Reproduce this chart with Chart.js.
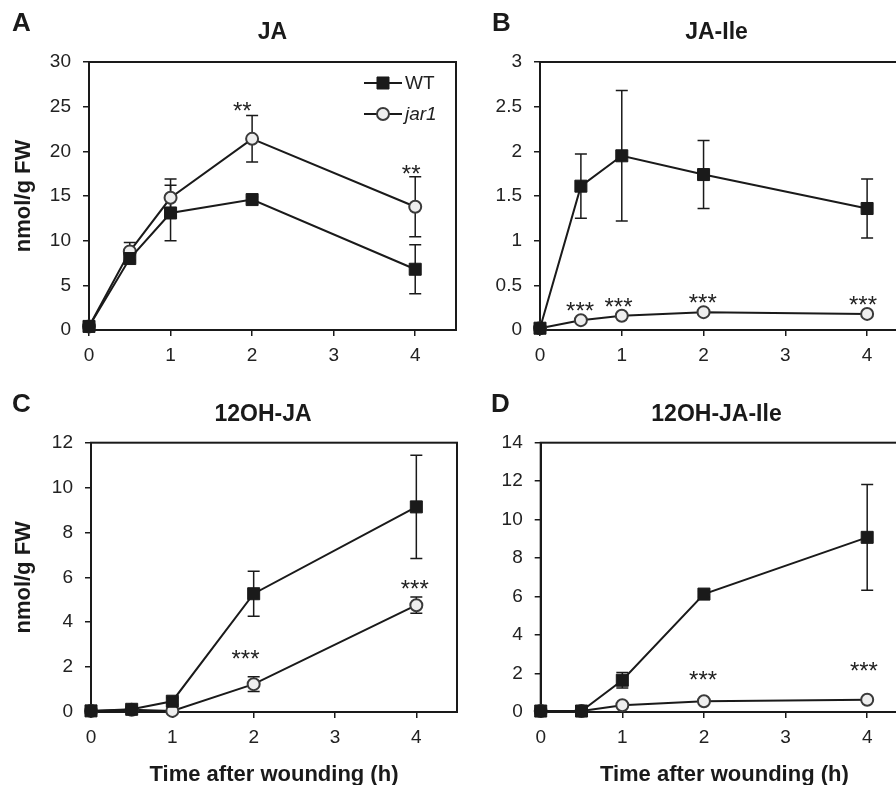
<!DOCTYPE html>
<html><head><meta charset="utf-8">
<script src="https://cdn.jsdelivr.net/npm/chart.js@4.4.1/dist/chart.umd.min.js"></script>
<style>
html,body{margin:0;padding:0;background:#fff;overflow:hidden;width:896px;height:785px;}
#wrap{position:relative;width:896px;height:785px;overflow:hidden;background:#fff;}
canvas{position:absolute;}
</style></head><body>
<div id="wrap">
<canvas id="cA" width="470" height="392" style="left:0;top:0"></canvas>
<canvas id="cB" width="470" height="392" style="left:450px;top:0"></canvas>
<canvas id="cC" width="470" height="400" style="left:0;top:390px"></canvas>
<canvas id="cD" width="470" height="400" style="left:450px;top:390px"></canvas>
</div>
<script>
// ---- data ----
const times = [0, 0.5, 1, 2, 4];
const seriesNames = ['WT', 'jar1'];

// Panel A: JA
const jaWT = [0.4, 8.0, 13.1, 14.6, 6.8];
const jaWTErr = [0.2, 0.4, 3.1, 0.3, 2.75];
const jaJar1 = [0.4, 8.8, 14.8, 21.4, 13.8];
const jaJar1Err = [0.2, 1.0, 2.1, 2.6, 3.35];
const jaStars = [{x: 1.88, y: 25.2, t: '**'}, {x: 3.95, y: 18.1, t: '**'}];

// Panel B: JA-Ile
const jaIleWT = [0.02, 1.61, 1.95, 1.74, 1.36];
const jaIleWTErr = [0.01, 0.36, 0.73, 0.38, 0.33];
const jaIleJar1 = [0.02, 0.11, 0.16, 0.20, 0.18];
const jaIleJar1Err = [0.01, 0.02, 0.02, 0.02, 0.02];
const jaIleStars = [{x: 0.49, y: 0.28, t: '***'}, {x: 0.96, y: 0.32, t: '***'}, {x: 1.99, y: 0.37, t: '***'}, {x: 3.95, y: 0.35, t: '***'}];

// Panel C: 12OH-JA
const ohJaWT = [0.05, 0.12, 0.48, 5.27, 9.14];
const ohJaWTErr = [0.02, 0.15, 0.15, 1.0, 2.3];
const ohJaJar1 = [0.05, 0.1, 0.05, 1.24, 4.76];
const ohJaJar1Err = [0.02, 0.05, 0.03, 0.33, 0.36];
const ohJaStars = [{x: 1.9, y: 2.64, t: '***'}, {x: 3.98, y: 5.76, t: '***'}];

// Panel D: 12OH-JA-Ile
const ohJaIleWT = [0.05, 0.05, 1.65, 6.13, 9.08];
const ohJaIleWTErr = [0.02, 0.02, 0.4, 0.15, 2.75];
const ohJaIleJar1 = [0.05, 0.05, 0.35, 0.56, 0.64];
const ohJaIleJar1Err = [0.02, 0.02, 0.03, 0.03, 0.05];
const ohJaIleStars = [{x: 1.99, y: 1.98, t: '***'}, {x: 3.96, y: 2.43, t: '***'}];

// ---- styling ----
const FONT = "Arial, 'Liberation Sans', Helvetica, sans-serif";
const INK = '#1a1a1a';
const TXT = '#222222';

const errorBars = {
  id: 'errorBars',
  beforeDatasetsDraw(chart) {
    const {ctx, scales: {x, y}} = chart;
    ctx.save();
    ctx.strokeStyle = INK; ctx.lineWidth = 1.5;
    chart.data.datasets.forEach(ds => {
      (ds.errors || []).forEach((e, i) => {
        const p = ds.data[i];
        const px = x.getPixelForValue(p.x);
        const t = y.getPixelForValue(p.y + e), b = y.getPixelForValue(p.y - e);
        ctx.beginPath();
        ctx.moveTo(px, t); ctx.lineTo(px, b);
        ctx.moveTo(px - 6, t); ctx.lineTo(px + 6, t);
        ctx.moveTo(px - 6, b); ctx.lineTo(px + 6, b);
        ctx.stroke();
      });
    });
    ctx.restore();
  }
};

const frameBox = {
  id: 'frameBox',
  beforeDatasetsDraw(chart) {
    const {ctx, chartArea: a} = chart;
    ctx.save();
    ctx.strokeStyle = INK; ctx.lineWidth = 2;
    ctx.strokeRect(a.left, a.top, a.right - a.left, a.bottom - a.top);
    ctx.restore();
  }
};

const panelText = {
  id: 'panelText',
  afterDraw(chart, args, o) {
    const {ctx, scales: {x, y}, chartArea: a} = chart;
    ctx.save();
    ctx.fillStyle = INK;
    ctx.textBaseline = 'middle';
    ctx.font = `bold 26px ${FONT}`; ctx.textAlign = 'left';
    ctx.fillText(o.letter, o.letterX, o.letterY);
    ctx.font = `bold 23px ${FONT}`; ctx.textAlign = 'center';
    ctx.fillText(o.title, o.titleX, o.titleY);
    // significance stars
    ctx.font = `24px ${FONT}`; ctx.textBaseline = 'alphabetic'; ctx.fillStyle = TXT;
    (o.stars || []).forEach(s => {
      ctx.fillText(s.t, x.getPixelForValue(s.x), y.getPixelForValue(s.y) + 14);
    });
    // legend
    if (o.legend) {
      chart.data.datasets.forEach((ds, i) => {
        const ly = a.top + o.legend.dy + i * 31;
        const x1 = a.right - o.legend.dxLine, x2 = x1 + 38, xm = (x1 + x2) / 2;
        ctx.strokeStyle = INK; ctx.lineWidth = 2;
        ctx.beginPath(); ctx.moveTo(x1, ly); ctx.lineTo(x2, ly); ctx.stroke();
        ctx.fillStyle = ds.pointBackgroundColor; ctx.strokeStyle = ds.pointBorderColor;
        ctx.lineWidth = ds.pointBorderWidth;
        ctx.beginPath();
        if (ds.pointStyle === 'rect') {
          const h = ds.pointRadius * Math.SQRT1_2;
          ctx.rect(xm - h, ly - h, 2 * h, 2 * h);
        } else {
          ctx.arc(xm, ly, ds.pointRadius, 0, Math.PI * 2);
        }
        ctx.fill(); ctx.stroke();
        ctx.fillStyle = TXT; ctx.textAlign = 'left'; ctx.textBaseline = 'middle';
        ctx.font = `${ds.labelItalic ? 'italic ' : ''}19px ${FONT}`;
        ctx.fillText(ds.label, x2 + 3, ly + 1);
      });
    }
    ctx.restore();
  }
};

function pts(vals) { return times.map((t, i) => ({x: t, y: vals[i]})); }
function fmt(v) { return String(Number(v.toFixed(2))); }

function makeChart(id, p) {
  const datasets = [
    {label: seriesNames[0], data: pts(p.wt), errors: p.wtErr, borderColor: INK, borderWidth: 2,
     pointStyle: 'rect', pointRadius: 8.5, pointBackgroundColor: INK, pointBorderColor: INK,
     pointBorderWidth: 1, tension: 0, clip: false, labelItalic: false},
    {label: seriesNames[1], data: pts(p.jar), errors: p.jarErr, borderColor: INK, borderWidth: 2,
     pointStyle: 'circle', pointRadius: 6, pointBackgroundColor: '#eeeeee', pointBorderColor: '#3a3a3a',
     pointBorderWidth: 2, tension: 0, clip: false, labelItalic: true}
  ];
  const axisCommon = {
    grid: {display: true, drawOnChartArea: false, drawTicks: true, tickLength: 6, color: INK, lineWidth: 1.5},
    border: {display: true, color: INK, width: 2}
  };
  return new Chart(document.getElementById(id), {
    type: 'line',
    data: {datasets},
    options: {
      responsive: false, animation: false, events: [], devicePixelRatio: 1,
      layout: {padding: p.pad},
      scales: {
        x: Object.assign({}, axisCommon, {
          type: 'linear', min: 0, max: 4.5,
          ticks: {stepSize: 1, includeBounds: false, padding: 8, color: TXT, font: {family: FONT, size: 19}, callback: fmt},
          title: {display: !!p.xTitle, text: p.xTitle || '', color: INK, font: {family: FONT, size: 22, weight: 'bold'}, padding: {top: 0, bottom: 2}},
          afterFit(s) { s.height = p.xHeight; }
        }),
        y: Object.assign({}, axisCommon, {
          type: 'linear', min: 0, max: p.yMax,
          ticks: {stepSize: p.yStep, padding: 12, color: TXT, font: {family: FONT, size: 19}, callback: fmt},
          title: {display: !!p.yTitle, text: p.yTitle || '', color: INK, font: {family: FONT, size: 22, weight: 'bold'}, padding: {top: 11, bottom: 0}},
          afterFit(s) { s.width = p.yWidth; }
        })
      },
      plugins: {
        legend: {display: false}, tooltip: {enabled: false},
        panelText: {letter: p.letter, letterX: p.letterX, letterY: p.letterY, title: p.title,
                    titleX: p.titleX, titleY: p.titleY, stars: p.stars, legend: p.legend}
      }
    },
    plugins: [frameBox, errorBars, panelText]
  });
}

makeChart('cA', {wt: jaWT, wtErr: jaWTErr, jar: jaJar1, jarErr: jaJar1Err, yMax: 30, yStep: 5, stars: jaStars,
  letter: 'A', letterX: 12, letterY: 24, title: 'JA', titleX: 272.5, titleY: 32.5,
  yTitle: 'nmol/g FW', yWidth: 89, xHeight: 50, pad: {left: 0, top: 62, right: 14, bottom: 12},
  legend: {dy: 21, dxLine: 92}});
makeChart('cB', {wt: jaIleWT, wtErr: jaIleWTErr, jar: jaIleJar1, jarErr: jaIleJar1Err, yMax: 3, yStep: 0.5, stars: jaIleStars,
  letter: 'B', letterX: 42, letterY: 24, title: 'JA-Ile', titleX: 266.5, titleY: 32.5,
  yWidth: 90, xHeight: 50, pad: {left: 0, top: 62, right: 12, bottom: 12}});
makeChart('cC', {wt: ohJaWT, wtErr: ohJaWTErr, jar: ohJaJar1, jarErr: ohJaJar1Err, yMax: 12, yStep: 2, stars: ohJaStars,
  letter: 'C', letterX: 12, letterY: 15, title: '12OH-JA', titleX: 263, titleY: 24.5,
  yTitle: 'nmol/g FW', xTitle: 'Time after wounding (h)', yWidth: 91, xHeight: 78, pad: {left: 0, top: 52.7, right: 13, bottom: 0}});
makeChart('cD', {wt: ohJaIleWT, wtErr: ohJaIleWTErr, jar: ohJaIleJar1, jarErr: ohJaIleJar1Err, yMax: 14, yStep: 2, stars: ohJaIleStars,
  letter: 'D', letterX: 41, letterY: 15, title: '12OH-JA-Ile', titleX: 266.5, titleY: 24.5,
  xTitle: 'Time after wounding (h)', yWidth: 90.7, xHeight: 78, pad: {left: 0, top: 52.7, right: 12, bottom: 0}});
</script>
</body></html>
